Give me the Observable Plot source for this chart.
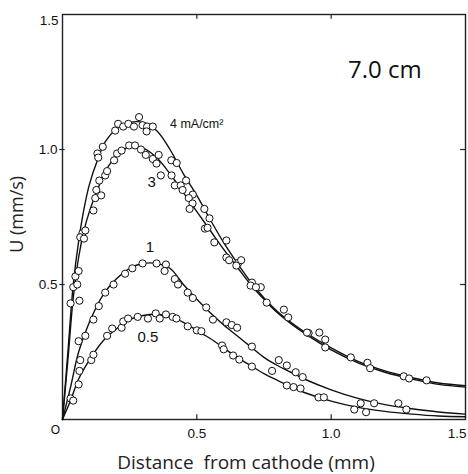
<!DOCTYPE html>
<html><head><meta charset="utf-8">
<script src="https://cdn.jsdelivr.net/npm/d3@7"></script>
<script src="https://cdn.jsdelivr.net/npm/@observablehq/plot@0.6"></script>
<style>body{margin:0;background:#fff}</style>
</head><body><div id="chart"></div>
<script>
// Fitted curves (x in mm, U in mm/s) per current density
const curve4 = [[0,0],[0.02,0.25],[0.04,0.5],[0.06,0.66],[0.08,0.78],[0.1,0.87],[0.13,0.96],[0.16,1.03],[0.2,1.075],[0.25,1.10],[0.3,1.10],[0.35,1.07],[0.4,1.0],[0.45,0.91],[0.5,0.83],[0.55,0.74],[0.6,0.655],[0.65,0.58],[0.7,0.51],[0.75,0.45],[0.8,0.40],[0.85,0.36],[0.9,0.325],[1.0,0.265],[1.1,0.215],[1.2,0.18],[1.3,0.155],[1.4,0.135],[1.5,0.125]];
const curve3 = [[0,0],[0.02,0.22],[0.04,0.45],[0.06,0.6],[0.08,0.7],[0.1,0.77],[0.13,0.85],[0.16,0.92],[0.2,0.975],[0.25,1.01],[0.3,1.005],[0.35,0.97],[0.4,0.91],[0.45,0.84],[0.5,0.77],[0.55,0.7],[0.6,0.63],[0.65,0.565],[0.7,0.5],[0.75,0.445],[0.8,0.395],[0.85,0.355],[0.9,0.32],[1.0,0.258],[1.1,0.21],[1.2,0.175],[1.3,0.15],[1.4,0.13],[1.5,0.12]];
const curve1 = [[0,0],[0.03,0.12],[0.06,0.25],[0.1,0.36],[0.15,0.46],[0.2,0.52],[0.25,0.56],[0.3,0.578],[0.35,0.578],[0.4,0.56],[0.45,0.5],[0.5,0.445],[0.55,0.395],[0.6,0.35],[0.65,0.31],[0.7,0.27],[0.75,0.23],[0.8,0.2],[0.85,0.175],[0.9,0.15],[1.0,0.11],[1.1,0.078],[1.2,0.055],[1.3,0.04],[1.4,0.028],[1.5,0.02]];
const curve05 = [[0,0],[0.03,0.07],[0.06,0.15],[0.1,0.22],[0.15,0.29],[0.2,0.335],[0.25,0.37],[0.3,0.385],[0.35,0.39],[0.4,0.382],[0.45,0.36],[0.5,0.33],[0.55,0.3],[0.6,0.265],[0.65,0.23],[0.7,0.2],[0.75,0.17],[0.8,0.145],[0.85,0.122],[0.9,0.1],[1.0,0.068],[1.1,0.045],[1.2,0.03],[1.3,0.02],[1.4,0.013],[1.5,0.01]];

// Measured points
const pts4 = [[0.048,0.53],[0.06,0.55],[0.074,0.69],[0.085,0.70],[0.13,0.985],[0.133,0.97],[0.15,1.01],[0.196,1.07],[0.207,1.095],[0.226,1.085],[0.245,1.095],[0.266,1.085],[0.285,1.12],[0.298,1.09],[0.315,1.085],[0.313,1.067],[0.336,1.085],[0.405,0.96],[0.425,0.95],[0.46,0.885],[0.485,0.833],[0.528,0.78],[0.547,0.745],[0.61,0.663],[0.654,0.58],[0.705,0.507],[0.738,0.49],[0.76,0.433],[0.824,0.407],[0.916,0.32],[0.956,0.322],[0.978,0.296],[1.073,0.23],[1.135,0.21],[1.27,0.16],[1.355,0.145]];
const pts3 = [[0.03,0.43],[0.04,0.49],[0.055,0.50],[0.063,0.44],[0.066,0.675],[0.08,0.67],[0.115,0.774],[0.122,0.82],[0.126,0.85],[0.144,0.83],[0.137,0.885],[0.159,0.904],[0.166,0.92],[0.192,0.96],[0.203,0.985],[0.22,0.996],[0.248,1.015],[0.27,1.015],[0.292,1.0],[0.31,0.98],[0.336,0.965],[0.358,0.98],[0.35,0.948],[0.366,0.904],[0.406,0.904],[0.418,0.867],[0.44,0.867],[0.447,0.85],[0.47,0.82],[0.484,0.8],[0.473,0.78],[0.53,0.707],[0.54,0.71],[0.565,0.656],[0.61,0.6],[0.62,0.59],[0.647,0.57],[0.665,0.59],[0.70,0.496],[0.72,0.49],[0.84,0.378],[0.91,0.322],[0.978,0.267],[1.145,0.19],[1.29,0.152]];
const pts1 = [[0.06,0.29],[0.085,0.31],[0.115,0.37],[0.135,0.42],[0.159,0.47],[0.19,0.50],[0.233,0.54],[0.26,0.56],[0.298,0.578],[0.35,0.578],[0.385,0.574],[0.38,0.55],[0.418,0.52],[0.43,0.50],[0.466,0.47],[0.485,0.45],[0.535,0.415],[0.56,0.37],[0.61,0.36],[0.63,0.35],[0.65,0.34],[0.705,0.27],[0.805,0.22],[0.835,0.20],[0.868,0.175],[0.894,0.157],[1.11,0.06],[1.16,0.06],[1.25,0.06],[1.28,0.037]];
const pts05 = [[0.03,0.078],[0.04,0.07],[0.06,0.13],[0.063,0.18],[0.066,0.22],[0.107,0.22],[0.115,0.24],[0.166,0.31],[0.185,0.337],[0.22,0.34],[0.226,0.363],[0.244,0.374],[0.28,0.38],[0.318,0.374],[0.347,0.393],[0.362,0.374],[0.385,0.389],[0.41,0.38],[0.424,0.374],[0.466,0.345],[0.50,0.33],[0.517,0.327],[0.594,0.274],[0.60,0.26],[0.635,0.237],[0.658,0.222],[0.705,0.196],[0.78,0.18],[0.835,0.126],[0.86,0.12],[0.886,0.115],[0.953,0.082],[0.973,0.082],[1.086,0.037],[1.13,0.027]];

const seriesLabels = [
  {x:0.40, y:1.096, text:"4 mA/cm²", anchor:"start"},
  {x:0.332, y:0.878, text:"3", anchor:"middle"},
  {x:0.325, y:0.637, text:"1", anchor:"middle"},
  {x:0.318, y:0.304, text:"0.5", anchor:"middle"}
];
const xTickLabels = [0.5, 1.0];
const yTickLabels = [0.5, 1.0];
const innerTicks = [0.5, 1.0];

const curves = [curve4, curve3, curve1, curve05];
const pts = [pts4, pts3, pts1, pts05];

const font = "'Liberation Sans', Arial, sans-serif";
const chart = Plot.plot({
  width: 468, height: 474,
  marginLeft: 62, marginRight: 3, marginTop: 14, marginBottom: 55,
  x: {domain: [0, 1.5], axis: null},
  y: {domain: [0, 1.5], axis: null},
  style: {fontFamily: font, background: "#fff"},
  marks: [
    Plot.frame({stroke: "#222", strokeWidth: 1.4}),
    // inward ticks on frame
    Plot.ruleX(innerTicks, {x: d => d, y1: 0, y2: 0.018, stroke: "#222", strokeWidth: 1.2}),
    Plot.ruleX(innerTicks, {x: d => d, y1: 1.5, y2: 1.482, stroke: "#222", strokeWidth: 1.2}),
    Plot.ruleY(innerTicks, {y: d => d, x1: 1.5, x2: 1.482, stroke: "#222", strokeWidth: 1.2}),
    Plot.ruleY(innerTicks, {y: d => d, x1: -0.01, x2: 0.01, stroke: "#222", strokeWidth: 1.2}),
    ...curves.map(c => Plot.line(c, {x: d => d[0], y: d => d[1], curve: "catmull-rom", stroke: "#111", strokeWidth: 1.4})),
    ...pts.map(p => Plot.dot(p, {x: d => d[0], y: d => d[1], r: 3.6, stroke: "#111", strokeWidth: 1, fill: "white"})),
    Plot.text(seriesLabels.filter(d => d.anchor === "start"), {x: "x", y: "y", text: "text", textAnchor: "start", fontSize: 12.5, fill: "#111"}),
    Plot.text(seriesLabels.filter(d => d.anchor !== "start"), {x: "x", y: "y", text: "text", fontSize: 15, fill: "#111"}),
    Plot.text(["7.0 cm"], {x: 1.2, y: 1.295, text: d => d, fontSize: 24, fontFamily: "'Open Sans', sans-serif", fill: "#111"}),
    // tick labels
    Plot.text(xTickLabels, {x: d => d, y: 0, text: d => d.toFixed(1), dy: 14, fontSize: 13.5, fill: "#111"}),
    Plot.text([1.5], {x: d => d, y: 0, text: d => d.toFixed(1), dy: 14, dx: 1, textAnchor: "end", fontSize: 13.5, fill: "#111"}),
    Plot.text([0], {x: d => d, y: 0, text: d => "O", dy: 11, dx: -7, fontSize: 12, fill: "#111"}),
    Plot.text(yTickLabels, {x: 0, y: d => d, text: d => d.toFixed(1), dx: -5, textAnchor: "end", fontSize: 13.5, fill: "#111"}),
    Plot.text([1.5], {x: 0, y: d => d, text: d => d.toFixed(1), dx: -4, dy: 6, textAnchor: "end", fontSize: 13.5, fill: "#111"}),
    Plot.text(["Distance  from cathode (mm)"], {x: 0.683, y: 0, text: d => d, dy: 43, fontSize: 19, fontFamily: "'Open Sans', sans-serif", fill: "#222"}),
    Plot.text(["U (mm/s)"], {x: 0, y: 0.76, text: d => d, dx: -45, rotate: -90, fontSize: 18, fontFamily: "'Open Sans', sans-serif", fill: "#222"})
  ]
});
document.getElementById("chart").append(chart);
</script>
</body></html>
